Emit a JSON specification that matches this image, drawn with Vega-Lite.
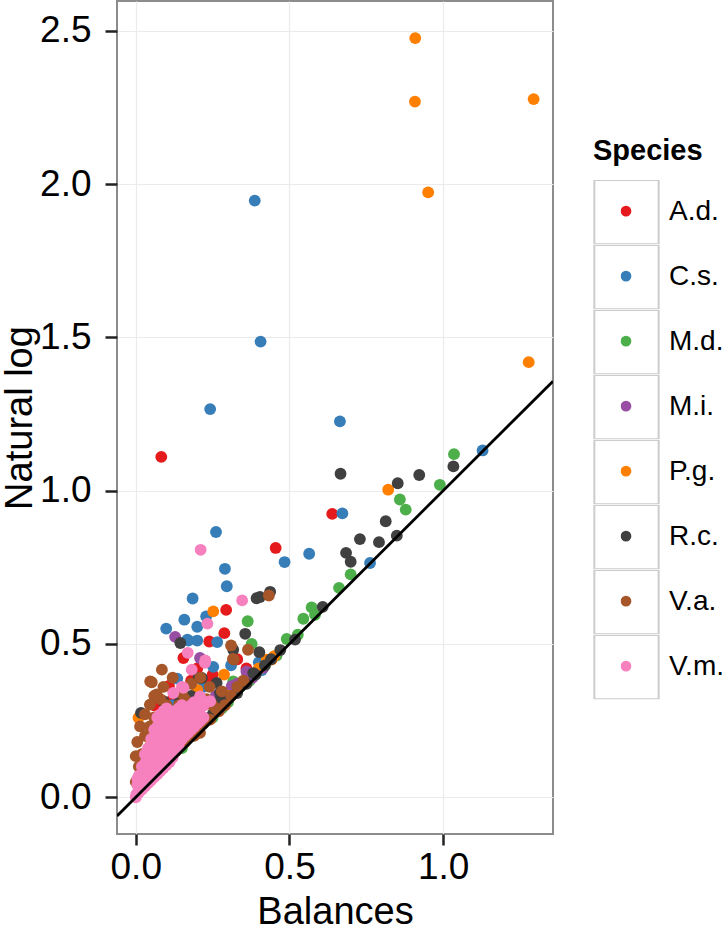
{
  "$schema": "https://vega.github.io/schema/vega-lite/v6.json",
  "width": 436,
  "height": 833,
  "autosize": "none",
  "padding": {"left": 117, "top": 1, "right": 175, "bottom": 92},
  "background": "white",
  "config": {
    "font": "Liberation Sans",
    "view": {"stroke": "#8C8C8C", "strokeWidth": 2},
    "axis": {
      "domain": false,
      "grid": true,
      "gridColor": "#EBEBEB",
      "gridWidth": 1.2,
      "tickColor": "#222222",
      "tickWidth": 2.5,
      "labelFont": "Liberation Sans",
      "labelFontSize": 37,
      "labelColor": "#000000",
      "titleFont": "Liberation Sans",
      "titleFontSize": 38,
      "titleFontWeight": "normal",
      "titleColor": "#000000"
    },
    "legend": {
      "labelFont": "Liberation Sans",
      "titleFont": "Liberation Sans"
    }
  },
  "datasets": {
    "pts": [
      {"species":"A.d.","bal":0.083,"ln":1.110},{"species":"A.d.","bal":0.455,"ln":0.813},{"species":"A.d.","bal":0.639,"ln":0.924},{"species":"A.d.","bal":0.294,"ln":0.611},{"species":"A.d.","bal":0.288,"ln":0.535},{"species":"A.d.","bal":0.239,"ln":0.508},{"species":"A.d.","bal":0.155,"ln":0.454},{"species":"A.d.","bal":0.108,"ln":0.363},{"species":"A.d.","bal":0.242,"ln":0.378},{"species":"A.d.","bal":0.06,"ln":0.30},{"species":"A.d.","bal":0.12,"ln":0.32},{"species":"A.d.","bal":0.2,"ln":0.42},{"species":"A.d.","bal":0.25,"ln":0.40},{"species":"A.d.","bal":0.18,"ln":0.38},{"species":"A.d.","bal":0.03,"ln":0.12},{"species":"A.d.","bal":0.08,"ln":0.2},{"species":"A.d.","bal":0.14,"ln":0.28},{"species":"A.d.","bal":0.22,"ln":0.30},{"species":"A.d.","bal":0.33,"ln":0.45},{"species":"A.d.","bal":0.36,"ln":0.42},
      {"species":"C.s.","bal":0.387,"ln":1.946},{"species":"C.s.","bal":0.406,"ln":1.486},{"species":"C.s.","bal":0.242,"ln":1.266},{"species":"C.s.","bal":0.664,"ln":1.226},{"species":"C.s.","bal":1.128,"ln":1.131},{"species":"C.s.","bal":0.672,"ln":0.926},{"species":"C.s.","bal":0.261,"ln":0.865},{"species":"C.s.","bal":0.564,"ln":0.794},{"species":"C.s.","bal":0.484,"ln":0.767},{"species":"C.s.","bal":0.762,"ln":0.764},{"species":"C.s.","bal":0.290,"ln":0.745},{"species":"C.s.","bal":0.296,"ln":0.688},{"species":"C.s.","bal":0.185,"ln":0.648},{"species":"C.s.","bal":0.158,"ln":0.579},{"species":"C.s.","bal":0.099,"ln":0.550},{"species":"C.s.","bal":0.200,"ln":0.556},{"species":"C.s.","bal":0.229,"ln":0.590},{"species":"C.s.","bal":0.171,"ln":0.511},{"species":"C.s.","bal":0.200,"ln":0.511},{"species":"C.s.","bal":0.265,"ln":0.506},{"species":"C.s.","bal":0.252,"ln":0.425},{"species":"C.s.","bal":0.135,"ln":0.387},{"species":"C.s.","bal":0.168,"ln":0.514},{"species":"C.s.","bal":0.31,"ln":0.43},{"species":"C.s.","bal":0.40,"ln":0.44},{"species":"C.s.","bal":0.22,"ln":0.36},{"species":"C.s.","bal":0.12,"ln":0.30},{"species":"C.s.","bal":0.06,"ln":0.20},{"species":"C.s.","bal":0.41,"ln":0.415},
      {"species":"M.d.","bal":1.035,"ln":1.119},{"species":"M.d.","bal":0.989,"ln":1.019},{"species":"M.d.","bal":0.859,"ln":0.971},{"species":"M.d.","bal":0.878,"ln":0.938},{"species":"M.d.","bal":0.699,"ln":0.727},{"species":"M.d.","bal":0.661,"ln":0.683},{"species":"M.d.","bal":0.572,"ln":0.619},{"species":"M.d.","bal":0.583,"ln":0.595},{"species":"M.d.","bal":0.545,"ln":0.582},{"species":"M.d.","bal":0.491,"ln":0.516},{"species":"M.d.","bal":0.527,"ln":0.530},{"species":"M.d.","bal":0.364,"ln":0.574},{"species":"M.d.","bal":0.377,"ln":0.500},{"species":"M.d.","bal":0.458,"ln":0.462},{"species":"M.d.","bal":0.317,"ln":0.378},{"species":"M.d.","bal":0.34,"ln":0.36},{"species":"M.d.","bal":0.30,"ln":0.31},{"species":"M.d.","bal":0.42,"ln":0.43},{"species":"M.d.","bal":0.28,"ln":0.29},{"species":"M.d.","bal":0.37,"ln":0.38},{"species":"M.d.","bal":0.25,"ln":0.26},{"species":"M.d.","bal":0.2,"ln":0.21},{"species":"M.d.","bal":0.15,"ln":0.16},{"species":"M.d.","bal":0.1,"ln":0.11},
      {"species":"M.i.","bal":0.128,"ln":0.523},{"species":"M.i.","bal":0.209,"ln":0.454},{"species":"M.i.","bal":0.312,"ln":0.362},{"species":"M.i.","bal":0.415,"ln":0.422},{"species":"M.i.","bal":0.30,"ln":0.34},{"species":"M.i.","bal":0.33,"ln":0.37},{"species":"M.i.","bal":0.38,"ln":0.39},{"species":"M.i.","bal":0.26,"ln":0.33},{"species":"M.i.","bal":0.18,"ln":0.30},{"species":"M.i.","bal":0.22,"ln":0.26},{"species":"M.i.","bal":0.15,"ln":0.23},{"species":"M.i.","bal":0.36,"ln":0.41},{"species":"M.i.","bal":0.10,"ln":0.15},{"species":"M.i.","bal":0.05,"ln":0.10},
      {"species":"P.g.","bal":0.909,"ln":2.476},{"species":"P.g.","bal":0.908,"ln":2.269},{"species":"P.g.","bal":1.294,"ln":2.277},{"species":"P.g.","bal":0.951,"ln":1.973},{"species":"P.g.","bal":1.278,"ln":1.419},{"species":"P.g.","bal":0.821,"ln":1.003},{"species":"P.g.","bal":0.252,"ln":0.606},{"species":"P.g.","bal":0.442,"ln":0.449},{"species":"P.g.","bal":0.426,"ln":0.449},{"species":"P.g.","bal":0.287,"ln":0.400},{"species":"P.g.","bal":0.009,"ln":0.259},{"species":"P.g.","bal":0.40,"ln":0.42},{"species":"P.g.","bal":0.45,"ln":0.46},{"species":"P.g.","bal":0.2,"ln":0.35},{"species":"P.g.","bal":0.12,"ln":0.26},{"species":"P.g.","bal":0.05,"ln":0.18},{"species":"P.g.","bal":0.30,"ln":0.33},{"species":"P.g.","bal":0.02,"ln":0.08},
      {"species":"R.c.","bal":1.033,"ln":1.079},{"species":"R.c.","bal":0.666,"ln":1.055},{"species":"R.c.","bal":0.922,"ln":1.051},{"species":"R.c.","bal":0.852,"ln":1.024},{"species":"R.c.","bal":0.813,"ln":0.900},{"species":"R.c.","bal":0.729,"ln":0.842},{"species":"R.c.","bal":0.791,"ln":0.832},{"species":"R.c.","bal":0.849,"ln":0.853},{"species":"R.c.","bal":0.684,"ln":0.797},{"species":"R.c.","bal":0.699,"ln":0.768},{"species":"R.c.","bal":0.437,"ln":0.670},{"species":"R.c.","bal":0.404,"ln":0.653},{"species":"R.c.","bal":0.608,"ln":0.621},{"species":"R.c.","bal":0.518,"ln":0.514},{"species":"R.c.","bal":0.393,"ln":0.649},{"species":"R.c.","bal":0.356,"ln":0.533},{"species":"R.c.","bal":0.145,"ln":0.503},{"species":"R.c.","bal":0.317,"ln":0.481},{"species":"R.c.","bal":0.402,"ln":0.473},{"species":"R.c.","bal":0.215,"ln":0.389},{"species":"R.c.","bal":0.263,"ln":0.373},{"species":"R.c.","bal":0.350,"ln":0.373},{"species":"R.c.","bal":0.382,"ln":0.405},{"species":"R.c.","bal":0.017,"ln":0.275},{"species":"R.c.","bal":0.274,"ln":0.318},{"species":"R.c.","bal":0.42,"ln":0.43},{"species":"R.c.","bal":0.44,"ln":0.45},{"species":"R.c.","bal":0.47,"ln":0.48},{"species":"R.c.","bal":0.36,"ln":0.37},{"species":"R.c.","bal":0.33,"ln":0.34},{"species":"R.c.","bal":0.30,"ln":0.32},{"species":"R.c.","bal":0.39,"ln":0.40},{"species":"R.c.","bal":0.25,"ln":0.27},{"species":"R.c.","bal":0.18,"ln":0.33},{"species":"R.c.","bal":0.12,"ln":0.25},{"species":"R.c.","bal":0.09,"ln":0.313},{"species":"R.c.","bal":0.144,"ln":0.313},{"species":"R.c.","bal":0.204,"ln":0.389},{"species":"R.c.","bal":0.274,"ln":0.341},
      {"species":"V.a.","bal":0.433,"ln":0.658},{"species":"V.a.","bal":0.310,"ln":0.495},{"species":"V.a.","bal":0.319,"ln":0.449},{"species":"V.a.","bal":0.365,"ln":0.481},{"species":"V.a.","bal":0.316,"ln":0.451},{"species":"V.a.","bal":0.085,"ln":0.416},{"species":"V.a.","bal":0.052,"ln":0.375},{"species":"V.a.","bal":0.068,"ln":0.335},{"species":"V.a.","bal":0.046,"ln":0.231},{"species":"V.a.","bal":0.046,"ln":0.302},{"species":"V.a.","bal":0.014,"ln":0.231},{"species":"V.a.","bal":0.0,"ln":0.134},{"species":"V.a.","bal":0.209,"ln":0.21},{"species":"V.a.","bal":0.242,"ln":0.253},{"species":"V.a.","bal":0.28,"ln":0.345},{"species":"V.a.","bal":0.26,"ln":0.29},{"species":"V.a.","bal":0.27,"ln":0.28},{"species":"V.a.","bal":0.29,"ln":0.30},{"species":"V.a.","bal":0.22,"ln":0.24},{"species":"V.a.","bal":0.19,"ln":0.20},{"species":"V.a.","bal":0.16,"ln":0.18},{"species":"V.a.","bal":0.13,"ln":0.15},{"species":"V.a.","bal":0.10,"ln":0.12},{"species":"V.a.","bal":0.07,"ln":0.09},{"species":"V.a.","bal":0.04,"ln":0.06},{"species":"V.a.","bal":0.02,"ln":0.05},{"species":"V.a.","bal":0.01,"ln":0.10},{"species":"V.a.","bal":0.005,"ln":0.18},{"species":"V.a.","bal":0.03,"ln":0.27},{"species":"V.a.","bal":0.06,"ln":0.33},{"species":"V.a.","bal":0.09,"ln":0.36},{"species":"V.a.","bal":0.12,"ln":0.39},{"species":"V.a.","bal":0.08,"ln":0.32},{"species":"V.a.","bal":0.1,"ln":0.30},{"species":"V.a.","bal":0.15,"ln":0.34},{"species":"V.a.","bal":0.18,"ln":0.37},{"species":"V.a.","bal":0.21,"ln":0.39},{"species":"V.a.","bal":0.24,"ln":0.36},{"species":"V.a.","bal":0.20,"ln":0.31},{"species":"V.a.","bal":0.23,"ln":0.32},{"species":"V.a.","bal":0.25,"ln":0.30},{"species":"V.a.","bal":0.31,"ln":0.33},{"species":"V.a.","bal":0.33,"ln":0.36},{"species":"V.a.","bal":0.35,"ln":0.38},{"species":"V.a.","bal":0.03,"ln":0.20},{"species":"V.a.","bal":0.02,"ln":0.14},{"species":"V.a.","bal":0.01,"ln":0.04},{"species":"V.a.","bal":0.06,"ln":0.26},{"species":"V.a.","bal":0.11,"ln":0.27},{"species":"V.a.","bal":0.14,"ln":0.30},{"species":"V.a.","bal":0.17,"ln":0.26},{"species":"V.a.","bal":0.05,"ln":0.16},{"species":"V.a.","bal":0.08,"ln":0.24},{"species":"V.a.","bal":0.03,"ln":0.05},{"species":"V.a.","bal":0.015,"ln":0.07},{"species":"V.a.","bal":0.0,"ln":0.05},{"species":"V.a.","bal":0.07,"ln":0.20},{"species":"V.a.","bal":0.16,"ln":0.32},{"species":"V.a.","bal":0.047,"ln":0.378},
      {"species":"V.m.","bal":0.211,"ln":0.807},{"species":"V.m.","bal":0.346,"ln":0.642},{"species":"V.m.","bal":0.233,"ln":0.566},{"species":"V.m.","bal":0.169,"ln":0.471},{"species":"V.m.","bal":0.226,"ln":0.446},{"species":"V.m.","bal":0.150,"ln":0.360},{"species":"V.m.","bal":0.122,"ln":0.340},{"species":"V.m.","bal":0.155,"ln":0.357},{"species":"V.m.","bal":0.182,"ln":0.416},{"species":"V.m.","bal":0.225,"ln":0.438},{"species":"V.m.","bal":0.209,"ln":0.329},{"species":"V.m.","bal":0.242,"ln":0.313},
      {"species":"V.m.","bal":0.0,"ln":0.0},{"species":"V.m.","bal":0.002,"ln":0.01},
      {"species":"V.m.","bal":0.005,"ln":0.01},{"species":"V.m.","bal":0.005,"ln":0.04},{"species":"V.m.","bal":0.005,"ln":0.06},
      {"species":"V.m.","bal":0.01,"ln":0.015},{"species":"V.m.","bal":0.01,"ln":0.04},{"species":"V.m.","bal":0.01,"ln":0.07},
      {"species":"V.m.","bal":0.02,"ln":0.025},{"species":"V.m.","bal":0.02,"ln":0.06},{"species":"V.m.","bal":0.02,"ln":0.10},
      {"species":"V.m.","bal":0.03,"ln":0.035},{"species":"V.m.","bal":0.03,"ln":0.07},{"species":"V.m.","bal":0.03,"ln":0.11},{"species":"V.m.","bal":0.03,"ln":0.14},
      {"species":"V.m.","bal":0.04,"ln":0.045},{"species":"V.m.","bal":0.04,"ln":0.08},{"species":"V.m.","bal":0.04,"ln":0.12},{"species":"V.m.","bal":0.04,"ln":0.16},
      {"species":"V.m.","bal":0.05,"ln":0.055},{"species":"V.m.","bal":0.05,"ln":0.09},{"species":"V.m.","bal":0.05,"ln":0.13},{"species":"V.m.","bal":0.05,"ln":0.17},{"species":"V.m.","bal":0.05,"ln":0.19},
      {"species":"V.m.","bal":0.06,"ln":0.065},{"species":"V.m.","bal":0.06,"ln":0.10},{"species":"V.m.","bal":0.06,"ln":0.14},{"species":"V.m.","bal":0.06,"ln":0.18},{"species":"V.m.","bal":0.06,"ln":0.22},
      {"species":"V.m.","bal":0.07,"ln":0.075},{"species":"V.m.","bal":0.07,"ln":0.11},{"species":"V.m.","bal":0.07,"ln":0.15},{"species":"V.m.","bal":0.07,"ln":0.19},{"species":"V.m.","bal":0.07,"ln":0.23},{"species":"V.m.","bal":0.07,"ln":0.26},
      {"species":"V.m.","bal":0.08,"ln":0.085},{"species":"V.m.","bal":0.08,"ln":0.12},{"species":"V.m.","bal":0.08,"ln":0.16},{"species":"V.m.","bal":0.08,"ln":0.20},{"species":"V.m.","bal":0.08,"ln":0.24},{"species":"V.m.","bal":0.08,"ln":0.27},
      {"species":"V.m.","bal":0.09,"ln":0.095},{"species":"V.m.","bal":0.09,"ln":0.13},{"species":"V.m.","bal":0.09,"ln":0.17},{"species":"V.m.","bal":0.09,"ln":0.21},{"species":"V.m.","bal":0.09,"ln":0.25},{"species":"V.m.","bal":0.09,"ln":0.28},
      {"species":"V.m.","bal":0.10,"ln":0.105},{"species":"V.m.","bal":0.10,"ln":0.14},{"species":"V.m.","bal":0.10,"ln":0.18},{"species":"V.m.","bal":0.10,"ln":0.22},{"species":"V.m.","bal":0.10,"ln":0.26},{"species":"V.m.","bal":0.10,"ln":0.29},
      {"species":"V.m.","bal":0.11,"ln":0.115},{"species":"V.m.","bal":0.11,"ln":0.15},{"species":"V.m.","bal":0.11,"ln":0.19},{"species":"V.m.","bal":0.11,"ln":0.23},{"species":"V.m.","bal":0.11,"ln":0.27},
      {"species":"V.m.","bal":0.12,"ln":0.13},{"species":"V.m.","bal":0.12,"ln":0.17},{"species":"V.m.","bal":0.12,"ln":0.21},{"species":"V.m.","bal":0.12,"ln":0.25},{"species":"V.m.","bal":0.12,"ln":0.28},
      {"species":"V.m.","bal":0.13,"ln":0.16},{"species":"V.m.","bal":0.13,"ln":0.20},{"species":"V.m.","bal":0.13,"ln":0.24},{"species":"V.m.","bal":0.13,"ln":0.28},
      {"species":"V.m.","bal":0.14,"ln":0.17},{"species":"V.m.","bal":0.14,"ln":0.21},{"species":"V.m.","bal":0.14,"ln":0.25},{"species":"V.m.","bal":0.14,"ln":0.29},
      {"species":"V.m.","bal":0.15,"ln":0.19},{"species":"V.m.","bal":0.15,"ln":0.23},{"species":"V.m.","bal":0.15,"ln":0.27},{"species":"V.m.","bal":0.15,"ln":0.30},
      {"species":"V.m.","bal":0.16,"ln":0.20},{"species":"V.m.","bal":0.16,"ln":0.24},{"species":"V.m.","bal":0.16,"ln":0.28},
      {"species":"V.m.","bal":0.17,"ln":0.21},{"species":"V.m.","bal":0.17,"ln":0.25},{"species":"V.m.","bal":0.17,"ln":0.29},
      {"species":"V.m.","bal":0.18,"ln":0.22},{"species":"V.m.","bal":0.18,"ln":0.26},{"species":"V.m.","bal":0.18,"ln":0.30},
      {"species":"V.m.","bal":0.19,"ln":0.23},{"species":"V.m.","bal":0.19,"ln":0.27},{"species":"V.m.","bal":0.19,"ln":0.31},
      {"species":"V.m.","bal":0.20,"ln":0.24},{"species":"V.m.","bal":0.20,"ln":0.28},
      {"species":"V.m.","bal":0.21,"ln":0.25},{"species":"V.m.","bal":0.21,"ln":0.29},
      {"species":"V.m.","bal":0.22,"ln":0.26},{"species":"V.m.","bal":0.22,"ln":0.30},
      {"species":"V.m.","bal":0.23,"ln":0.31}
    ],
    "ref": [
      {"bal": -0.061, "ln": -0.061},
      {"bal": 1.357, "ln": 1.357}
    ],
    "keys": [
      {"key":"A.d."},{"key":"C.s."},{"key":"M.d."},{"key":"M.i."},{"key":"P.g."},{"key":"R.c."},{"key":"V.a."},{"key":"V.m."}
    ]
  },
  "layer": [
    {
      "data": {"name": "pts"},
      "mark": {"type": "point", "filled": true, "opacity": 1, "size": 140},
      "encoding": {
        "x": {
          "field": "bal", "type": "quantitative", "title": "Balances",
          "scale": {"domain": [-0.061, 1.357], "nice": false, "zero": false},
          "axis": {"values": [0, 0.5, 1.0], "format": ".1f", "tickSize": 11, "labelPadding": 4, "titleBaseline": "alphabetic", "titleY": 89}
        },
        "y": {
          "field": "ln", "type": "quantitative", "title": "Natural log",
          "scale": {"domain": [-0.12, 2.597], "nice": false, "zero": false},
          "axis": {"values": [0, 0.5, 1.0, 1.5, 2.0, 2.5], "format": ".1f", "tickSize": 12, "labelPadding": 14, "titleBaseline": "alphabetic", "titleX": -86, "titleAngle": -90}
        },
        "color": {
          "field": "species", "type": "nominal",
          "scale": {
            "domain": ["A.d.","C.s.","M.d.","M.i.","P.g.","R.c.","V.a.","V.m."],
            "range": ["#E41A1C","#377EB8","#4DAF4A","#984EA3","#FF7F00","#404040","#A65628","#F781BF"]
          },
          "legend": {
            "orient": "none", "direction": "vertical",
            "legendX": 503.5, "legendY": 178,
            "title": null,
            "symbolType": "circle", "symbolSize": 115, "symbolStrokeWidth": 0,
            "labelExpr": "''", "labelFontSize": 1,
            "clipHeight": 64.3,
            "rowPadding": 0
          }
        }
      }
    },
    {
      "data": {"name": "ref"},
      "mark": {"type": "line", "color": "#000000", "strokeWidth": 2.8, "clip": true},
      "encoding": {
        "x": {"field": "bal", "type": "quantitative"},
        "y": {"field": "ln", "type": "quantitative"}
      }
    },
    {
      "data": {"name": "keys"},
      "mark": {"type": "point", "opacity": 0, "size": 0},
      "encoding": {
        "shape": {
          "field": "key", "type": "nominal",
          "scale": {"range": ["square"]},
          "legend": {
            "orient": "none", "direction": "vertical",
            "legendX": 476, "legendY": 136,
            "title": "Species", "titleFontSize": 29, "titleFontWeight": "bold", "titleColor": "#000000", "titlePadding": 14,
            "symbolType": "square", "symbolSize": 4134, "symbolStrokeColor": "#CCCCCC", "symbolStrokeWidth": 2, "symbolFillColor": "transparent", "symbolOpacity": 1,
            "labelFontSize": 28, "labelColor": "#000000", "labelOffset": 9,
            "clipHeight": 64.3,
            "rowPadding": 0
          }
        }
      }
    }
  ]
}
